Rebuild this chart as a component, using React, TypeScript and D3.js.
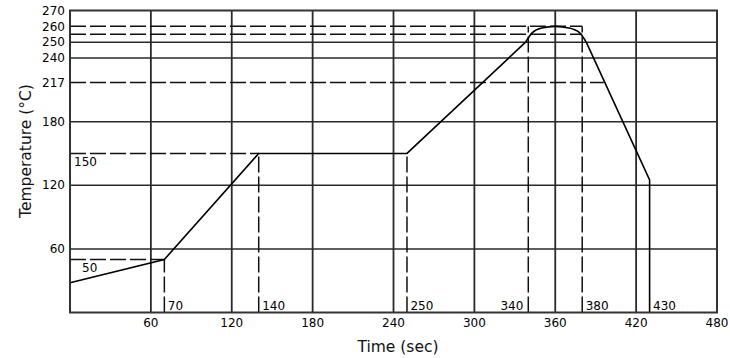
import React from "react";
import * as d3 from "d3";

const W = 730;
const H = 358;

// Reflow profile (time sec, temperature °C)
const rampSegment: [number, number][] = [
  [0, 28],
  [70, 50],
  [140, 150],
  [250, 150],
  [338, 250],
];
const peakSegment: [number, number][] = [
  [338, 250],
  [343, 256],
  [350, 259],
  [360, 260],
  [370, 259],
  [378, 256],
  [383, 250],
];
const coolSegment: [number, number][] = [
  [383, 250],
  [430, 125],
  [430, 0],
];

const xTicks = [60, 120, 180, 240, 300, 360, 420, 480];
const xGrid = [60, 120, 180, 240, 300, 360, 420];
const yTicks = [60, 120, 180, 217, 240, 250, 260, 270];
const yGrid = [60, 120, 180, 240, 250];

// dashed reference lines
const hRefTemps = [50, 150, 217, 255, 260];
const hRefEnds = [70, 140, 396, 380, 380];
const vRefTimes = [70, 140, 250, 340, 380];
const vRefTops = [50, 150, 150, 260, 260];
const vRefLabels = ["70", "140", "250", "340", "380", "430"];
const vRefLabelTimes = [70, 140, 250, 340, 380, 430];
const inLabels = ["50", "150"];
const inLabelTemps = [50, 150];

export default function App() {
  const left = 70;
  const right = 717;
  const bottom = 312.5;
  const top = 10.5;

  const x = d3.scaleLinear().domain([0, 480]).range([left, right]);
  const y = d3.scaleLinear().domain([0, 240, 270]).range([bottom, 58, top]);

  const lin = d3
    .line<[number, number]>()
    .x((d) => x(d[0]))
    .y((d) => y(d[1]));
  const smooth = d3
    .line<[number, number]>()
    .x((d) => x(d[0]))
    .y((d) => y(d[1]))
    .curve(d3.curveMonotoneX);

  const font = "DejaVu Sans, Verdana, sans-serif";
  const gridColor = "#2a2a2a";

  return (
    <svg
      width={W}
      height={H}
      style={{ position: "absolute", left: 0, top: 0, background: "#fff" }}
      fontFamily={font}
    >
      {/* solid grid */}
      {xGrid.map((t) => (
        <line
          key={"vx" + t}
          x1={x(t)}
          x2={x(t)}
          y1={top}
          y2={bottom}
          stroke={gridColor}
          strokeWidth={1.8}
        />
      ))}
      {yGrid.map((t) => (
        <line
          key={"hy" + t}
          x1={left}
          x2={right}
          y1={y(t)}
          y2={y(t)}
          stroke={gridColor}
          strokeWidth={1.5}
        />
      ))}

      {/* dashed reference lines */}
      {hRefTemps.map((t, i) => (
        <line
          key={"hd" + i}
          x1={left}
          x2={x(hRefEnds[i])}
          y1={y(t)}
          y2={y(t)}
          stroke="#111"
          strokeWidth={1.5}
          strokeDasharray="16,4"
        />
      ))}
      {vRefTimes.map((t, i) => (
        <line
          key={"vd" + i}
          x1={x(t)}
          x2={x(t)}
          y1={bottom}
          y2={y(vRefTops[i])}
          stroke="#111"
          strokeWidth={1.5}
          strokeDasharray="16,4"
        />
      ))}

      {/* profile */}
      <path d={lin(rampSegment) || ""} fill="none" stroke="#000" strokeWidth={1.6} />
      <path d={smooth(peakSegment) || ""} fill="none" stroke="#000" strokeWidth={1.6} />
      <path d={lin(coolSegment) || ""} fill="none" stroke="#000" strokeWidth={1.6} />

      {/* frame */}
      <rect
        x={left}
        y={top}
        width={right - left}
        height={bottom - top}
        fill="none"
        stroke="#333"
        strokeWidth={2}
      />

      {/* y ticks */}
      {yTicks.map((t) => (
        <text
          key={"yt" + t}
          x={65}
          y={y(t)}
          dy="0.35em"
          textAnchor="end"
          fontSize={12}
          fill="#000"
        >
          {t}
        </text>
      ))}
      {/* x ticks */}
      {xTicks.map((t) => (
        <text
          key={"xt" + t}
          x={x(t)}
          y={327}
          textAnchor="middle"
          fontSize={12}
          fill="#000"
        >
          {t}
        </text>
      ))}

      {/* reference labels at bottom */}
      {vRefLabels.map((s, i) => {
        const t = vRefLabelTimes[i];
        const isLeft = s === "340";
        return (
          <text
            key={"vl" + s}
            x={isLeft ? x(t) - 5 : x(t) + 3.5}
            y={310}
            textAnchor={isLeft ? "end" : "start"}
            fontSize={12}
            fill="#000"
          >
            {s}
          </text>
        );
      })}
      {inLabels.map((s, i) => (
        <text
          key={"il" + s}
          x={s === "50" ? 82 : 74}
          y={y(inLabelTemps[i]) + 13}
          fontSize={12}
          fill="#000"
        >
          {s}
        </text>
      ))}

      {/* axis titles */}
      <text x={398} y={352} textAnchor="middle" fontSize={15.5} fill="#111">
        Time (sec)
      </text>
      <text
        transform={`translate(31,151) rotate(-90)`}
        textAnchor="middle"
        fontSize={15.5}
        fill="#111"
      >
        Temperature (°C)
      </text>
    </svg>
  );
}
